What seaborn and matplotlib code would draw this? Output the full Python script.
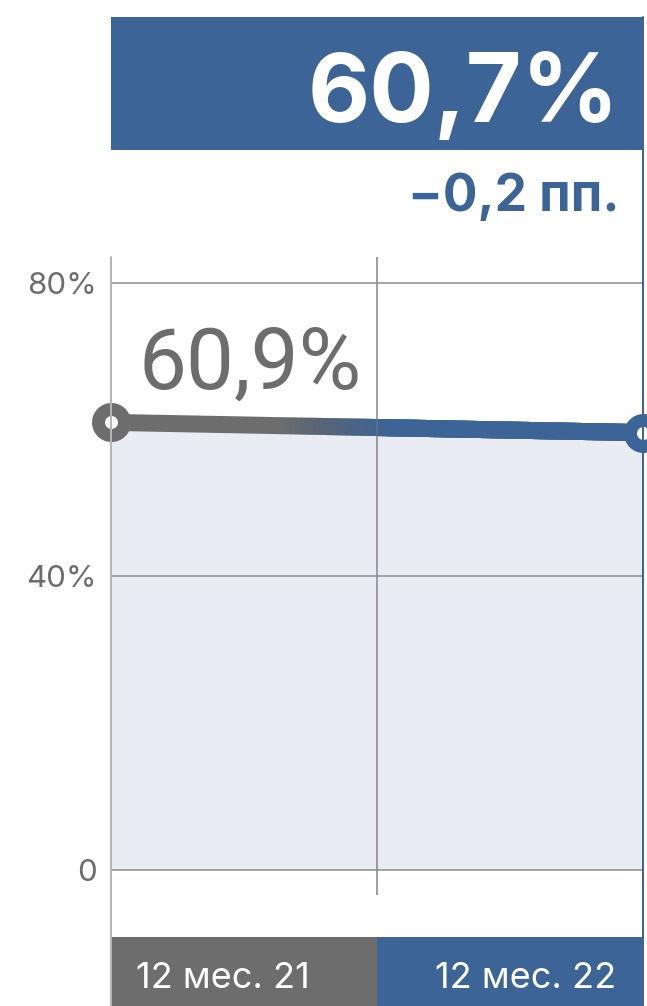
import numpy as np
import pandas as pd
import matplotlib
matplotlib.use("Agg")
import matplotlib.pyplot as plt
from matplotlib.patches import Rectangle
from matplotlib.lines import Line2D
import seaborn as sns

# ==============================================================================
# DATOS
# ==============================================================================
periods = ["12 мес. 21", "12 мес. 22"]
positions = [0, 1]
values = [61.0, 59.6]          # posición de la línea
value_labels = ["60,9%", "60,7%"]
delta_label = "−0,2 пп."
y_ticks = [0, 40, 80]
y_tick_labels = ["0", "40%", "80%"]

# ==============================================================================
# ESTILO
# ==============================================================================
W, H = 647, 1006
BLUE = "#3d6496"
GREY = "#6d6d6d"
FILL = "#e9ecf2"
GRID = "#8c8c8c"
AXIS = "#b5b5b5"
PX = 72 / 100  # puntos por píxel
REG = ["Roboto", "DejaVu Sans"]
INTER = ["Inter", "DejaVu Sans"]

sns.set_theme(style="white")
plt.rcParams["font.family"] = INTER

df = pd.DataFrame({"period": periods, "pos": positions, "value": values})

fig = plt.figure(figsize=(W / 100, H / 100), dpi=100)

# --- área principal
ax = fig.add_axes([111 / W, 111 / H, 532 / W, 638 / H])
ax.set_xlim(0, 1)
ax.set_ylim(-3.41, 83.54)
ax.set_facecolor("none")

ax.fill_between(df["pos"], 0, df["value"], color=FILL, lw=0, zorder=1)

for t in y_ticks:
    ax.axhline(t, color=GRID, linewidth=1.5 * PX, zorder=2)
ax.axvline(0.5, color=GRID, linewidth=1.5 * PX, zorder=2)

# línea con degradado gris -> azul
LW = 17 * PX
sns.lineplot(data=df, x="pos", y="value", color=GREY, linewidth=LW, ax=ax,
             zorder=3, solid_capstyle="butt")
n = 24
g0, g1 = 0.32, 0.52
for k in range(n):
    x0 = g0 + (g1 - g0) * k / (n - 1)
    sns.lineplot(data=df, x="pos", y="value", color=BLUE, linewidth=LW, ax=ax,
                 alpha=1 / (n - k), zorder=3, solid_capstyle="butt")
    ln = ax.lines[-1]
    clip = Rectangle((x0, -0.5), 2, 2, transform=ax.transAxes)
    ln.set_clip_path(clip)

# la rejilla vertical se ve levemente a través de la línea
ax.axvline(0.5, color=GRID, linewidth=1.5 * PX, alpha=0.35, zorder=4)

marker_colors = [GREY, BLUE]
for (_, row), c in zip(df.iterrows(), marker_colors):
    ax.plot(row["pos"], row["value"], marker="o", markersize=26 * PX,
            markerfacecolor="white", markeredgecolor=c,
            markeredgewidth=13 * PX, clip_on=False, zorder=5)

ax.annotate(value_labels[0], xy=(df["pos"][0], df["value"][0]),
            xytext=(27, 34), textcoords="offset pixels",
            fontsize=61.5, family=REG, color=GREY, ha="left", va="baseline")

ax.set_yticks(y_ticks)
ax.set_yticklabels(y_tick_labels, fontsize=22.5, color=GREY)
ax.set_xticks([])
ax.tick_params(axis="y", length=0, pad=10)
ax.set_xlabel("")
ax.set_ylabel("")
for s in ax.spines.values():
    s.set_visible(False)

# --- líneas verticales de borde
fig.add_artist(Line2D([111 / W, 111 / W], [0, (H - 257) / H],
                      color=AXIS, linewidth=2 * PX))
fig.add_artist(Line2D([643 / W, 643 / W], [0, (H - 17) / H],
                      color=BLUE, linewidth=2 * PX))

# --- caja superior con valor actual
top = fig.add_axes([111 / W, (H - 150) / H, 532 / W, 133 / H])
top.set_facecolor(BLUE)
top.set_xticks([])
top.set_yticks([])
for s in top.spines.values():
    s.set_visible(False)
top.text((619 - 111) / 532, 28 / 133, value_labels[1], transform=top.transAxes,
         fontsize=69, fontweight="bold", color="white",
         ha="right", va="baseline")

fig.text(620 / W, (H - 211) / H, delta_label, fontsize=37,
         fontweight="bold", color=BLUE, ha="right", va="baseline")

# --- etiquetas de periodos
bot = fig.add_axes([111 / W, 0, 532 / W, 69 / H])
bot.set_xlim(0, 1)
bot.set_ylim(0, 1)
bot.axvspan(0, 0.5, color=GREY, lw=0)
bot.axvspan(0.5, 1, color=BLUE, lw=0)
bot.text(25 / 532, 18 / 69, periods[0], fontsize=26, color="white",
         ha="left", va="baseline")
bot.text(1 - 27 / 532, 18 / 69, periods[1], fontsize=26, color="white",
         ha="right", va="baseline")
bot.set_xticks([])
bot.set_yticks([])
for s in bot.spines.values():
    s.set_visible(False)

fig.savefig("out.png", dpi=100)
plt.close(fig)
